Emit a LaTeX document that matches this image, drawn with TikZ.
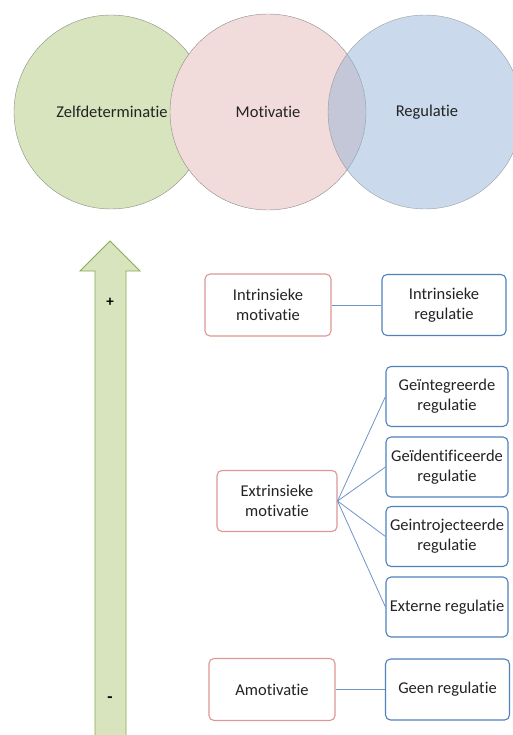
\documentclass[tikz,border=0pt]{standalone}
\usepackage{fontspec}
\setmainfont[RawFeature=-liga]{Carlito}
\usetikzlibrary{positioning}
\definecolor{zgreen}{RGB}{215,228,189}
\definecolor{zgreenline}{RGB}{140,170,80}
\definecolor{mpink}{RGB}{242,220,219}
\definecolor{rblue}{RGB}{149,179,215}
\definecolor{motline}{RGB}{222,150,150}
\definecolor{regline}{RGB}{79,129,189}
\definecolor{linkblue}{RGB}{110,148,200}
\definecolor{txt}{RGB}{35,35,35}
\begin{document}
\begin{tikzpicture}[x=1pt, y=-1pt, font=\fontsize{16.5}{20}\selectfont, text=txt,
mot/.style={draw=motline, line width=1.1pt, rounded corners=5pt, fill=white, align=center, inner sep=2pt, minimum width=126pt, minimum height=62pt},
reg/.style={draw=regline, line width=1.1pt, rounded corners=5pt, fill=white, align=center, inner sep=2pt, minimum width=124pt, minimum height=61pt},
link/.style={linkblue, line width=0.8pt},
venn/.style={draw=black!45, line width=0.4pt}]

\useasboundingbox (0,0) rectangle (512,735);

% circles
\fill[zgreen] (111,112) circle (97);
\draw[venn] (111,112) circle (97);
\fill[mpink] (268,112) circle (98);
\draw[venn] (268,112) circle (98);
\fill[rblue, fill opacity=0.5] (425,112) circle (97);
\draw[venn, draw opacity=0.8] (425,112) circle (97);

\node (zelf) at (112,112) {Zelfdeterminatie};
\node (motiv) at (268,112) {Motivatie};
\node (regul) at (427,112) {Regulatie};

% arrow
\draw[zgreenline, line width=0.8pt, fill=zgreen] (95,745) -- (95,271) -- (80,271) -- (110,241) -- (140,271) -- (126,271) -- (126,745) -- cycle;
\node[text=black, font=\bfseries\fontsize{15}{15}\selectfont] (plus) at (110,302) {+};
\node[text=black, font=\bfseries\fontsize{17}{17}\selectfont] (minus) at (110,700) {-};

% boxes
\node[mot] (intmot) at (268,305) {Intrinsieke\\motivatie};
\node[reg] (intreg) at (444,305) {Intrinsieke\\regulatie};

\node[mot, minimum width=120pt, minimum height=61pt] (extmot) at (277,501) {Extrinsieke\\motivatie};
\node[reg, minimum width=122pt, minimum height=60pt] (integ) at (447,396.5) {Geïntegreerde\\regulatie};
\node[reg, minimum width=122pt, minimum height=60pt] (ident) at (447,467) {Geïdentificeerde\\regulatie};
\node[reg, minimum width=122pt, minimum height=60pt] (introj) at (447,536.5) {Geintrojecteerde\\regulatie};
\node[reg, minimum width=122pt, minimum height=60pt] (extern) at (447,607) {Externe regulatie};

\node[mot] (amot) at (272,689.5) {Amotivatie};
\node[reg] (geen) at (447.5,689.5) {Geen regulatie};

% links
\draw[link] (intmot) -- (intreg);
\draw[link] (extmot.east) -- (integ.west);
\draw[link] (extmot.east) -- (ident.west);
\draw[link] (extmot.east) -- (introj.west);
\draw[link] (extmot.east) -- (extern.west);
\draw[link] (amot) -- (geen);

\end{tikzpicture}
\end{document}
